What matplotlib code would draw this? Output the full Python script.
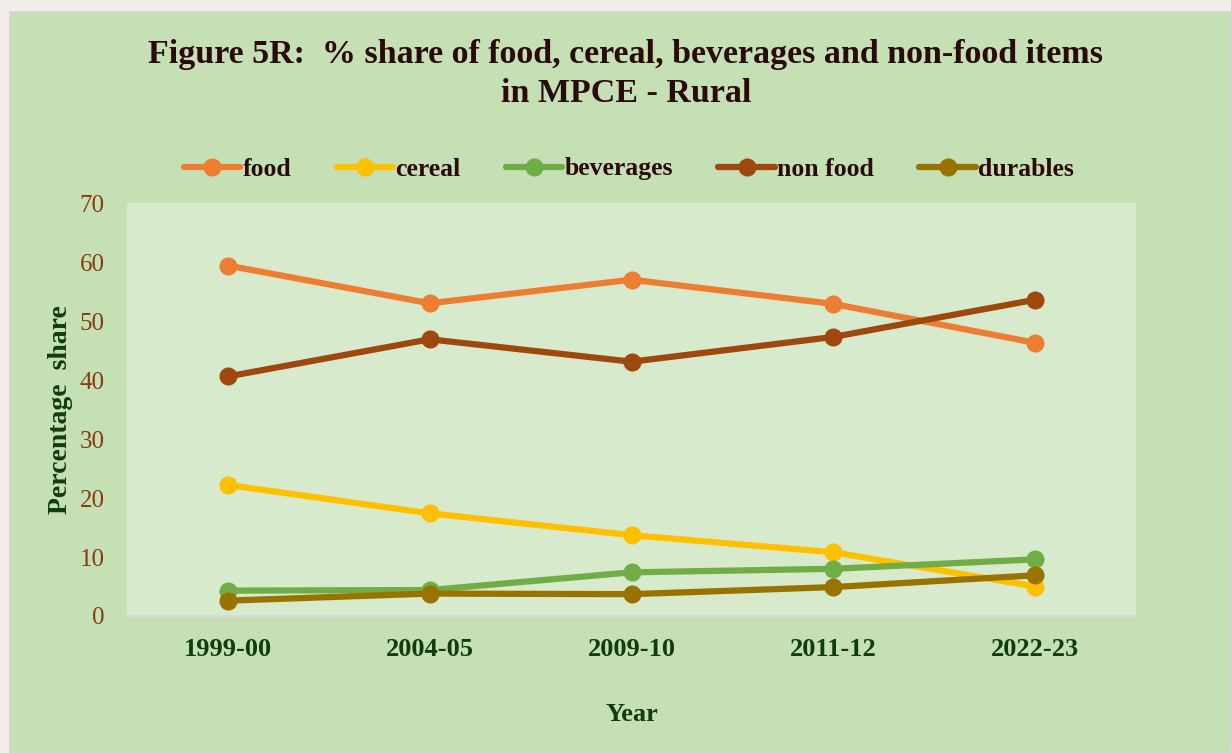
import matplotlib.pyplot as plt
from matplotlib.patches import Rectangle

years = ["1999-00", "2004-05", "2009-10", "2011-12", "2022-23"]
food = [59.4, 53.0, 57.0, 52.9, 46.3]
cereal = [22.2, 17.4, 13.7, 10.8, 5.0]
beverages = [4.3, 4.4, 7.4, 8.0, 9.6]
non_food = [40.6, 46.9, 43.1, 47.3, 53.6]
durables = [2.6, 3.8, 3.7, 4.9, 6.9]

series = [
    ("food", food, "#ED7D31"),
    ("cereal", cereal, "#FFC000"),
    ("beverages", beverages, "#70AD47"),
    ("non food", non_food, "#9E480E"),
    ("durables", durables, "#997300"),
]

serif = ["Liberation Serif", "DejaVu Serif"]
dark_green = "#0f3d0f"

fig = plt.figure(figsize=(12.31, 7.53), dpi=100, facecolor="#f2efea")
# green panel behind the chart
fig.patches.append(Rectangle((10 / 1231, 0), 1221 / 1231, 741 / 753, transform=fig.transFigure,
                             facecolor="#c5e0b4", edgecolor="#d6d6d6", linewidth=1.5, zorder=-10))

ax = fig.add_axes([127 / 1231, 1 - 616 / 753, 1009 / 1231, 413 / 753])
ax.set_facecolor("#d8eacc")

x = range(len(years))
for name, vals, col in series:
    ax.plot(x, vals, color=col, linewidth=4.5, marker="o", markersize=12,
            solid_capstyle="round", label=name)

ax.set_xlim(-0.5, 4.5)
ax.set_ylim(0, 70)
ax.set_yticks(range(0, 71, 10))
ax.set_xticks(list(x))
ax.set_xticklabels(years, fontfamily=serif, fontweight="bold", fontsize=19, color=dark_green)
for t in ax.get_yticklabels():
    t.set_fontfamily(serif)
    t.set_fontsize(18)
    t.set_color("#8a3b0e")
ax.tick_params(axis="both", length=0)
ax.tick_params(axis="x", pad=16)
ax.tick_params(axis="y", pad=16)
for s in ["top", "left", "right"]:
    ax.spines[s].set_visible(False)
ax.spines["bottom"].set_color("#d9d9d9")
ax.spines["bottom"].set_linewidth(2)

ax.set_ylabel("Percentage  share", fontfamily=serif, fontweight="bold", fontsize=20,
              color=dark_green, labelpad=5)
ax.set_xlabel("Year", fontfamily=serif, fontweight="bold", fontsize=19,
              color=dark_green, labelpad=30)

fig.text(626 / 1231, 1 - 74 / 753,
         "Figure 5R:  % share of food, cereal, beverages and non-food items\nin MPCE - Rural",
         ha="center", va="center", fontfamily=serif, fontweight="bold", fontsize=24.5,
         color="#2a0a0a", linespacing=1.3)

fig.legend(loc="center", bbox_to_anchor=(629 / 1231, 1 - 169 / 753), ncol=5, frameon=False,
           prop={"family": serif, "weight": "bold", "size": 18.5}, labelcolor="#2a0a0a",
           handlelength=2.2, handletextpad=0.1, columnspacing=1.75)

fig.savefig("out.png", dpi=100, facecolor=fig.get_facecolor())
